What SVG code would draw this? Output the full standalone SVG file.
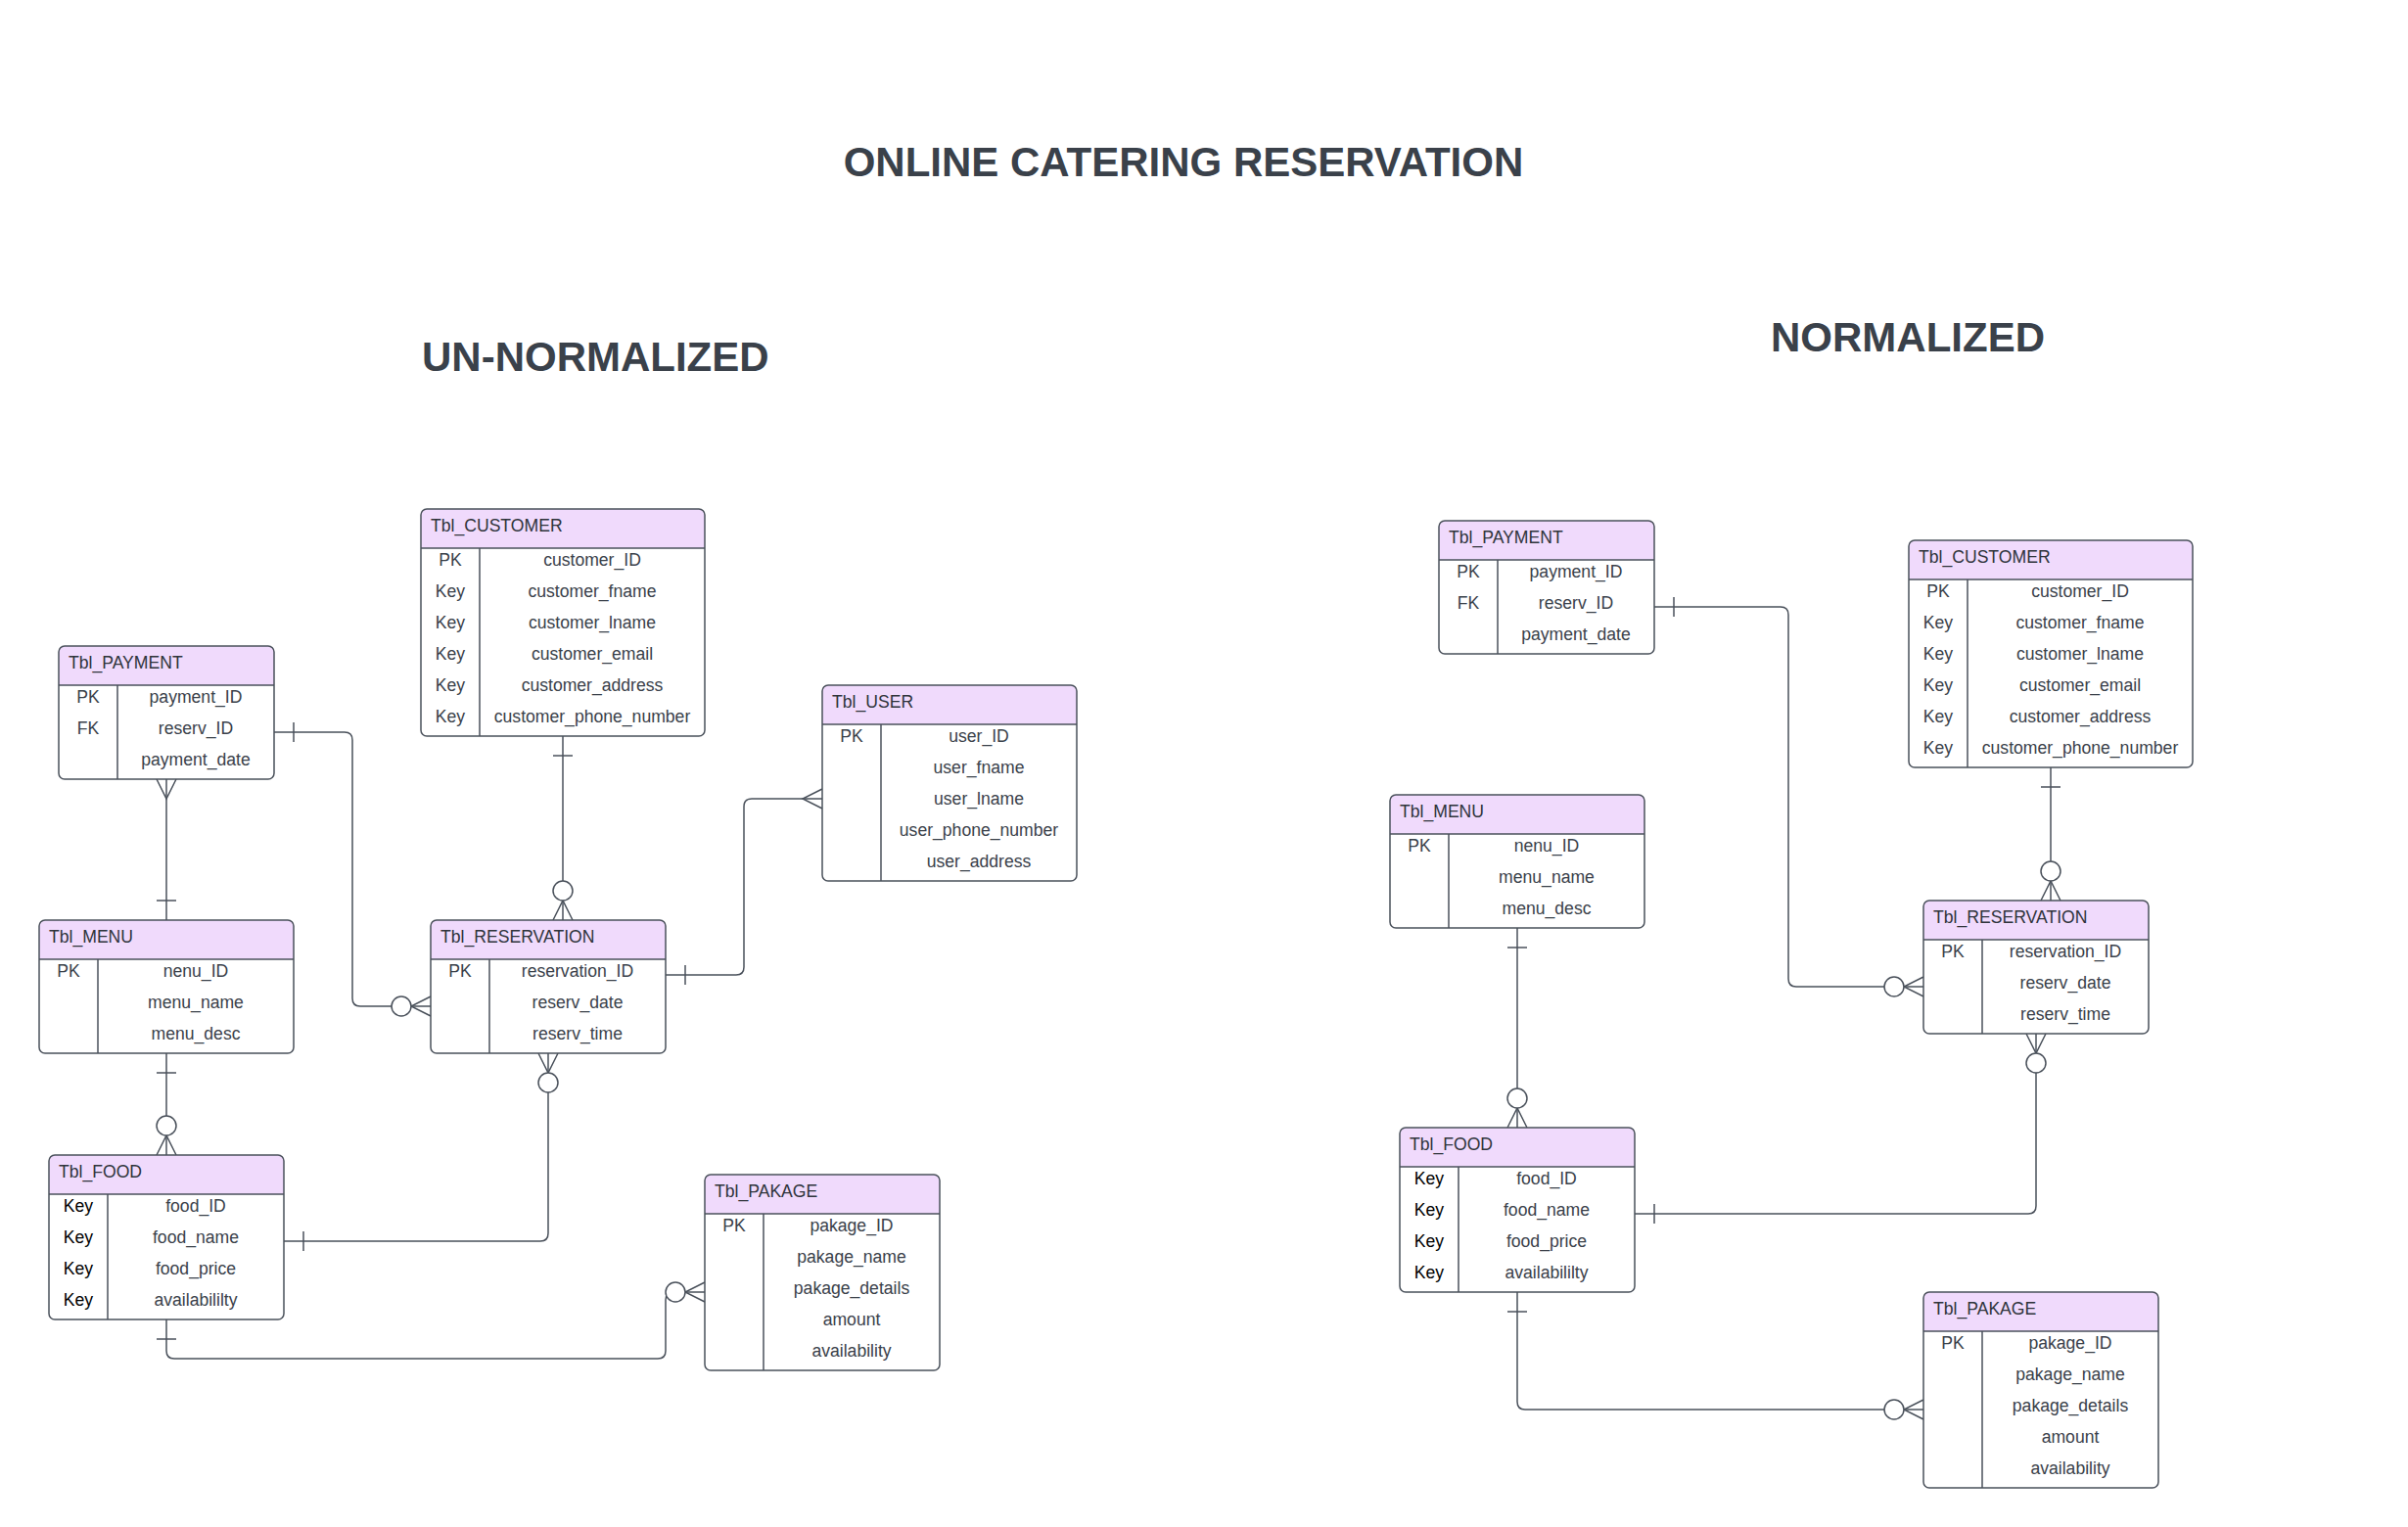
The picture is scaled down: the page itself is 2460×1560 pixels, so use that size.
<svg xmlns="http://www.w3.org/2000/svg" width="2460" height="1560" viewBox="0 0 2460 1560">
<style>
.bg{fill:#ffffff}
.ttl{font-family:"Liberation Sans",Arial,sans-serif;font-weight:bold;font-size:42px;fill:#3a414a}
.body{fill:#ffffff;stroke:none}
.hdr{fill:#f0dafc;stroke:none}
.frame{fill:none;stroke:#4a515b;stroke-width:1.5}
.ln{stroke:#4a515b;stroke-width:1.5}
.ht{font-family:"Liberation Sans",Arial,sans-serif;font-size:17.6px;fill:#2f343b}
.kt{font-family:"Liberation Sans",Arial,sans-serif;font-size:17.6px;fill:#3a414a;text-anchor:middle}
.kb{fill:#000000}
.vt{font-family:"Liberation Sans",Arial,sans-serif;font-size:17.6px;fill:#3a414a;text-anchor:middle}
.con{fill:none;stroke:#4a515b;stroke-width:1.5}
.mk{fill:none;stroke:#4a515b;stroke-width:1.5}
.mkc{fill:#ffffff;stroke:#4a515b;stroke-width:1.5}
</style>
<defs>
<marker id="one" markerUnits="userSpaceOnUse" markerWidth="1" markerHeight="1" refX="0" refY="0" orient="auto-start-reverse" overflow="visible">
<line class="mk" x1="-20" y1="-10" x2="-20" y2="10"/>
</marker>
<marker id="many" markerUnits="userSpaceOnUse" markerWidth="1" markerHeight="1" refX="0" refY="0" orient="auto-start-reverse" overflow="visible">
<path class="mk" d="M0,-10 L-20,0 L0,10"/>
</marker>
<marker id="zeroMany" markerUnits="userSpaceOnUse" markerWidth="1" markerHeight="1" refX="0" refY="0" orient="auto-start-reverse" overflow="visible">
<path class="mk" d="M0,-10 L-20,0 L0,10"/>
<circle class="mkc" cx="-30" cy="0" r="10"/>
</marker>
</defs>
<rect class="bg" x="0" y="0" width="2460" height="1560"/>

<text class="ttl" x="1209" y="180" text-anchor="middle">ONLINE CATERING RESERVATION</text>
<text class="ttl" x="431" y="379">UN-NORMALIZED</text>
<text class="ttl" x="1809" y="359">NORMALIZED</text>

<g id="connectors">
<path class="con" d="M280,748 H352 Q360,748 360,756 V1020 Q360,1028 368,1028 H440" marker-start="url(#one)" marker-end="url(#zeroMany)"/>
<path class="con" d="M170,940 V796" marker-start="url(#one)" marker-end="url(#many)"/>
<path class="con" d="M575,752 V940" marker-start="url(#one)" marker-end="url(#zeroMany)"/>
<path class="con" d="M680,996 H752 Q760,996 760,988 V824 Q760,816 768,816 H840" marker-start="url(#one)" marker-end="url(#many)"/>
<path class="con" d="M290,1268 H552 Q560,1268 560,1260 V1076" marker-start="url(#one)" marker-end="url(#zeroMany)"/>
<path class="con" d="M170,1076 V1180" marker-start="url(#one)" marker-end="url(#zeroMany)"/>
<path class="con" d="M170,1348 V1380 Q170,1388 178,1388 H672 Q680,1388 680,1380 V1328 Q680,1320 688,1320 H720" marker-start="url(#one)" marker-end="url(#zeroMany)"/>
<path class="con" d="M1690,620 H1819 Q1827,620 1827,628 V1000 Q1827,1008 1835,1008 H1965" marker-start="url(#one)" marker-end="url(#zeroMany)"/>
<path class="con" d="M2095,784 V920" marker-start="url(#one)" marker-end="url(#zeroMany)"/>
<path class="con" d="M1550,948 V1152" marker-start="url(#one)" marker-end="url(#zeroMany)"/>
<path class="con" d="M1670,1240 H2072 Q2080,1240 2080,1232 V1056" marker-start="url(#one)" marker-end="url(#zeroMany)"/>
<path class="con" d="M1550,1320 V1432 Q1550,1440 1558,1440 H1965" marker-start="url(#one)" marker-end="url(#zeroMany)"/>
</g>

<!-- UN-NORMALIZED -->
<g id="un_payment" transform="translate(60,660)">
<rect class="body" x="0" y="0" width="220" height="136" rx="6"/>
<path class="hdr" d="M0,40 V6 Q0,0 6,0 H214 Q220,0 220,6 V40 Z"/>
<line class="ln" x1="0" y1="40" x2="220" y2="40"/>
<line class="ln" x1="60" y1="40" x2="60" y2="136"/>
<rect class="frame" x="0" y="0" width="220" height="136" rx="6"/>
<text class="ht" x="10" y="23">Tbl_PAYMENT</text>
<text class="kt" x="30" y="58">PK</text><text class="vt" x="140" y="58">payment_ID</text>
<text class="kt" x="30" y="90">FK</text><text class="vt" x="140" y="90">reserv_ID</text>
<text class="vt" x="140" y="122">payment_date</text>
</g>

<g id="un_customer" transform="translate(430,520)">
<rect class="body" x="0" y="0" width="290" height="232" rx="6"/>
<path class="hdr" d="M0,40 V6 Q0,0 6,0 H284 Q290,0 290,6 V40 Z"/>
<line class="ln" x1="0" y1="40" x2="290" y2="40"/>
<line class="ln" x1="60" y1="40" x2="60" y2="232"/>
<rect class="frame" x="0" y="0" width="290" height="232" rx="6"/>
<text class="ht" x="10" y="23">Tbl_CUSTOMER</text>
<text class="kt" x="30" y="58">PK</text><text class="vt" x="175" y="58">customer_ID</text>
<text class="kt" x="30" y="90">Key</text><text class="vt" x="175" y="90">customer_fname</text>
<text class="kt" x="30" y="122">Key</text><text class="vt" x="175" y="122">customer_lname</text>
<text class="kt" x="30" y="154">Key</text><text class="vt" x="175" y="154">customer_email</text>
<text class="kt" x="30" y="186">Key</text><text class="vt" x="175" y="186">customer_address</text>
<text class="kt" x="30" y="218">Key</text><text class="vt" x="175" y="218">customer_phone_number</text>
</g>

<g id="un_menu" transform="translate(40,940)">
<rect class="body" x="0" y="0" width="260" height="136" rx="6"/>
<path class="hdr" d="M0,40 V6 Q0,0 6,0 H254 Q260,0 260,6 V40 Z"/>
<line class="ln" x1="0" y1="40" x2="260" y2="40"/>
<line class="ln" x1="60" y1="40" x2="60" y2="136"/>
<rect class="frame" x="0" y="0" width="260" height="136" rx="6"/>
<text class="ht" x="10" y="23">Tbl_MENU</text>
<text class="kt" x="30" y="58">PK</text><text class="vt" x="160" y="58">nenu_ID</text>
<text class="vt" x="160" y="90">menu_name</text>
<text class="vt" x="160" y="122">menu_desc</text>
</g>

<g id="un_reservation" transform="translate(440,940)">
<rect class="body" x="0" y="0" width="240" height="136" rx="6"/>
<path class="hdr" d="M0,40 V6 Q0,0 6,0 H234 Q240,0 240,6 V40 Z"/>
<line class="ln" x1="0" y1="40" x2="240" y2="40"/>
<line class="ln" x1="60" y1="40" x2="60" y2="136"/>
<rect class="frame" x="0" y="0" width="240" height="136" rx="6"/>
<text class="ht" x="10" y="23">Tbl_RESERVATION</text>
<text class="kt" x="30" y="58">PK</text><text class="vt" x="150" y="58">reservation_ID</text>
<text class="vt" x="150" y="90">reserv_date</text>
<text class="vt" x="150" y="122">reserv_time</text>
</g>

<g id="un_user" transform="translate(840,700)">
<rect class="body" x="0" y="0" width="260" height="200" rx="6"/>
<path class="hdr" d="M0,40 V6 Q0,0 6,0 H254 Q260,0 260,6 V40 Z"/>
<line class="ln" x1="0" y1="40" x2="260" y2="40"/>
<line class="ln" x1="60" y1="40" x2="60" y2="200"/>
<rect class="frame" x="0" y="0" width="260" height="200" rx="6"/>
<text class="ht" x="10" y="23">Tbl_USER</text>
<text class="kt" x="30" y="58">PK</text><text class="vt" x="160" y="58">user_ID</text>
<text class="vt" x="160" y="90">user_fname</text>
<text class="vt" x="160" y="122">user_lname</text>
<text class="vt" x="160" y="154">user_phone_number</text>
<text class="vt" x="160" y="186">user_address</text>
</g>

<g id="un_food" transform="translate(50,1180)">
<rect class="body" x="0" y="0" width="240" height="168" rx="6"/>
<path class="hdr" d="M0,40 V6 Q0,0 6,0 H234 Q240,0 240,6 V40 Z"/>
<line class="ln" x1="0" y1="40" x2="240" y2="40"/>
<line class="ln" x1="60" y1="40" x2="60" y2="168"/>
<rect class="frame" x="0" y="0" width="240" height="168" rx="6"/>
<text class="ht" x="10" y="23">Tbl_FOOD</text>
<text class="kt kb" x="30" y="58">Key</text><text class="vt" x="150" y="58">food_ID</text>
<text class="kt kb" x="30" y="90">Key</text><text class="vt" x="150" y="90">food_name</text>
<text class="kt kb" x="30" y="122">Key</text><text class="vt" x="150" y="122">food_price</text>
<text class="kt kb" x="30" y="154">Key</text><text class="vt" x="150" y="154">availabililty</text>
</g>

<g id="un_pakage" transform="translate(720,1200)">
<rect class="body" x="0" y="0" width="240" height="200" rx="6"/>
<path class="hdr" d="M0,40 V6 Q0,0 6,0 H234 Q240,0 240,6 V40 Z"/>
<line class="ln" x1="0" y1="40" x2="240" y2="40"/>
<line class="ln" x1="60" y1="40" x2="60" y2="200"/>
<rect class="frame" x="0" y="0" width="240" height="200" rx="6"/>
<text class="ht" x="10" y="23">Tbl_PAKAGE</text>
<text class="kt" x="30" y="58">PK</text><text class="vt" x="150" y="58">pakage_ID</text>
<text class="vt" x="150" y="90">pakage_name</text>
<text class="vt" x="150" y="122">pakage_details</text>
<text class="vt" x="150" y="154">amount</text>
<text class="vt" x="150" y="186">availability</text>
</g>

<!-- NORMALIZED -->
<g id="n_payment" transform="translate(1470,532)">
<rect class="body" x="0" y="0" width="220" height="136" rx="6"/>
<path class="hdr" d="M0,40 V6 Q0,0 6,0 H214 Q220,0 220,6 V40 Z"/>
<line class="ln" x1="0" y1="40" x2="220" y2="40"/>
<line class="ln" x1="60" y1="40" x2="60" y2="136"/>
<rect class="frame" x="0" y="0" width="220" height="136" rx="6"/>
<text class="ht" x="10" y="23">Tbl_PAYMENT</text>
<text class="kt" x="30" y="58">PK</text><text class="vt" x="140" y="58">payment_ID</text>
<text class="kt" x="30" y="90">FK</text><text class="vt" x="140" y="90">reserv_ID</text>
<text class="vt" x="140" y="122">payment_date</text>
</g>

<g id="n_customer" transform="translate(1950,552)">
<rect class="body" x="0" y="0" width="290" height="232" rx="6"/>
<path class="hdr" d="M0,40 V6 Q0,0 6,0 H284 Q290,0 290,6 V40 Z"/>
<line class="ln" x1="0" y1="40" x2="290" y2="40"/>
<line class="ln" x1="60" y1="40" x2="60" y2="232"/>
<rect class="frame" x="0" y="0" width="290" height="232" rx="6"/>
<text class="ht" x="10" y="23">Tbl_CUSTOMER</text>
<text class="kt" x="30" y="58">PK</text><text class="vt" x="175" y="58">customer_ID</text>
<text class="kt" x="30" y="90">Key</text><text class="vt" x="175" y="90">customer_fname</text>
<text class="kt" x="30" y="122">Key</text><text class="vt" x="175" y="122">customer_lname</text>
<text class="kt" x="30" y="154">Key</text><text class="vt" x="175" y="154">customer_email</text>
<text class="kt" x="30" y="186">Key</text><text class="vt" x="175" y="186">customer_address</text>
<text class="kt" x="30" y="218">Key</text><text class="vt" x="175" y="218">customer_phone_number</text>
</g>

<g id="n_menu" transform="translate(1420,812)">
<rect class="body" x="0" y="0" width="260" height="136" rx="6"/>
<path class="hdr" d="M0,40 V6 Q0,0 6,0 H254 Q260,0 260,6 V40 Z"/>
<line class="ln" x1="0" y1="40" x2="260" y2="40"/>
<line class="ln" x1="60" y1="40" x2="60" y2="136"/>
<rect class="frame" x="0" y="0" width="260" height="136" rx="6"/>
<text class="ht" x="10" y="23">Tbl_MENU</text>
<text class="kt" x="30" y="58">PK</text><text class="vt" x="160" y="58">nenu_ID</text>
<text class="vt" x="160" y="90">menu_name</text>
<text class="vt" x="160" y="122">menu_desc</text>
</g>

<g id="n_reservation" transform="translate(1965,920)">
<rect class="body" x="0" y="0" width="230" height="136" rx="6"/>
<path class="hdr" d="M0,40 V6 Q0,0 6,0 H224 Q230,0 230,6 V40 Z"/>
<line class="ln" x1="0" y1="40" x2="230" y2="40"/>
<line class="ln" x1="60" y1="40" x2="60" y2="136"/>
<rect class="frame" x="0" y="0" width="230" height="136" rx="6"/>
<text class="ht" x="10" y="23">Tbl_RESERVATION</text>
<text class="kt" x="30" y="58">PK</text><text class="vt" x="145" y="58">reservation_ID</text>
<text class="vt" x="145" y="90">reserv_date</text>
<text class="vt" x="145" y="122">reserv_time</text>
</g>

<g id="n_food" transform="translate(1430,1152)">
<rect class="body" x="0" y="0" width="240" height="168" rx="6"/>
<path class="hdr" d="M0,40 V6 Q0,0 6,0 H234 Q240,0 240,6 V40 Z"/>
<line class="ln" x1="0" y1="40" x2="240" y2="40"/>
<line class="ln" x1="60" y1="40" x2="60" y2="168"/>
<rect class="frame" x="0" y="0" width="240" height="168" rx="6"/>
<text class="ht" x="10" y="23">Tbl_FOOD</text>
<text class="kt kb" x="30" y="58">Key</text><text class="vt" x="150" y="58">food_ID</text>
<text class="kt kb" x="30" y="90">Key</text><text class="vt" x="150" y="90">food_name</text>
<text class="kt kb" x="30" y="122">Key</text><text class="vt" x="150" y="122">food_price</text>
<text class="kt kb" x="30" y="154">Key</text><text class="vt" x="150" y="154">availabililty</text>
</g>

<g id="n_pakage" transform="translate(1965,1320)">
<rect class="body" x="0" y="0" width="240" height="200" rx="6"/>
<path class="hdr" d="M0,40 V6 Q0,0 6,0 H234 Q240,0 240,6 V40 Z"/>
<line class="ln" x1="0" y1="40" x2="240" y2="40"/>
<line class="ln" x1="60" y1="40" x2="60" y2="200"/>
<rect class="frame" x="0" y="0" width="240" height="200" rx="6"/>
<text class="ht" x="10" y="23">Tbl_PAKAGE</text>
<text class="kt" x="30" y="58">PK</text><text class="vt" x="150" y="58">pakage_ID</text>
<text class="vt" x="150" y="90">pakage_name</text>
<text class="vt" x="150" y="122">pakage_details</text>
<text class="vt" x="150" y="154">amount</text>
<text class="vt" x="150" y="186">availability</text>
</g>
</svg>
